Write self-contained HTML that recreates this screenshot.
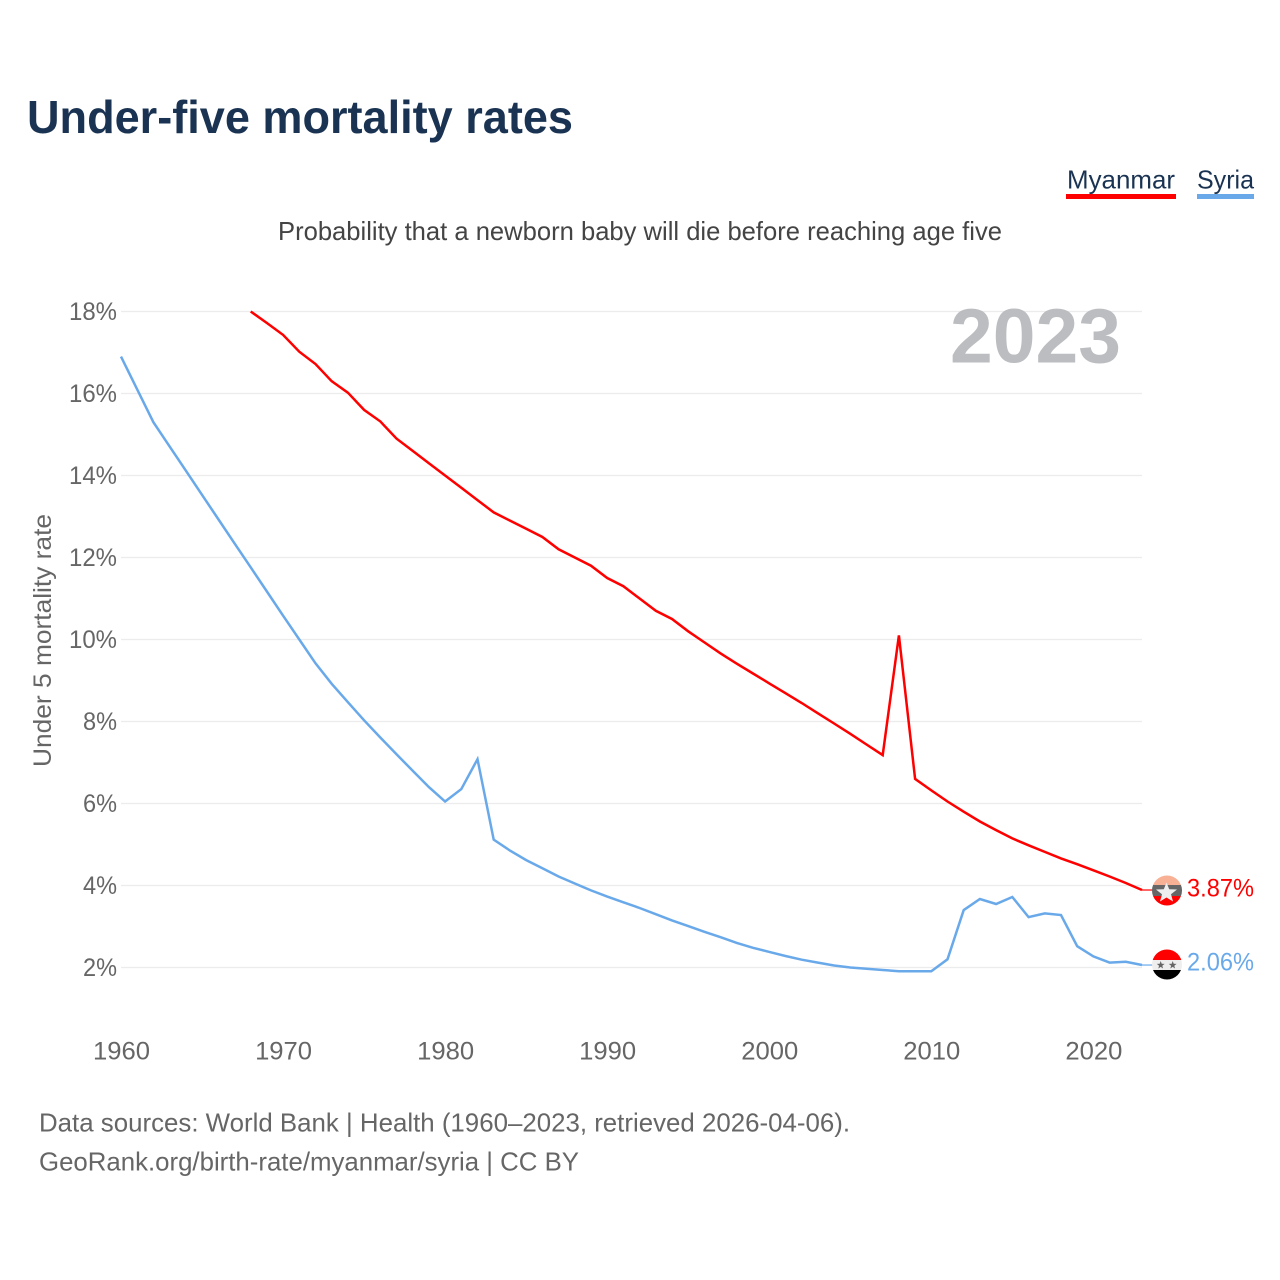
<!DOCTYPE html>
<html lang="en">
<head>
<meta charset="utf-8">
<title>Under-five mortality rates</title>
<style>
html,body{margin:0;padding:0;background:#fff;width:1280px;height:1280px;overflow:hidden}
svg{display:block;font-family:"Liberation Sans",sans-serif}
</style>
</head>
<body>
<svg id="chart" width="1280" height="1280" viewBox="0 0 1280 1280" xmlns="http://www.w3.org/2000/svg">
  <text x="27" y="133" font-size="46" font-weight="700" fill="#1a3352" textLength="546" lengthAdjust="spacingAndGlyphs">Under-five mortality rates</text>
  <text x="278" y="240" font-size="26" fill="#444" textLength="724" lengthAdjust="spacingAndGlyphs">Probability that a newborn baby will die before reaching age five</text>

  <g>
    <text x="1067" y="188.5" font-size="26" fill="#1a3352" textLength="108" lengthAdjust="spacingAndGlyphs">Myanmar</text>
    <rect x="1066" y="194" width="110" height="5" fill="#ff0000"/>
    <text x="1197" y="188.5" font-size="26" fill="#1a3352" textLength="57" lengthAdjust="spacingAndGlyphs">Syria</text>
    <rect x="1197" y="194" width="57" height="5" fill="#69a9ea"/>
  </g>

  <g id="grid"></g>
  <g id="yticks"></g>
  <g id="xticks"></g>
  <text transform="translate(51,640.5) rotate(-90)" text-anchor="middle" font-size="25" fill="#666" textLength="253" lengthAdjust="spacingAndGlyphs">Under 5 mortality rate</text>
  <text x="950" y="362.5" font-size="77" font-weight="700" fill="#bbbdc0" textLength="171" lengthAdjust="spacingAndGlyphs">2023</text>

  <g id="series"></g>

  <g id="end-labels"></g>

  <defs>
    <clipPath id="clip-mm"><circle cx="1167" cy="890.5" r="15"/></clipPath>
    <clipPath id="clip-sy"><circle cx="1167" cy="964.5" r="15"/></clipPath>
  </defs>
  <g clip-path="url(#clip-mm)">
    <rect x="1152" y="875" width="30" height="10" fill="#f8b195"/>
    <rect x="1152" y="885" width="30" height="11" fill="#666666"/>
    <rect x="1152" y="896" width="30" height="11" fill="#ff0000"/>
    <polygon fill="#eeeeee" points="1166.5,882.5 1169.2,889.2 1177,889.5 1171,894.2 1173,901.5 1166.5,897.5 1160,901.5 1162,894.2 1156,889.5 1163.8,889.2"/>
  </g>
  <g clip-path="url(#clip-sy)">
    <rect x="1152" y="949" width="30" height="11" fill="#ff0000"/>
    <rect x="1152" y="960" width="30" height="10" fill="#eeeeee"/>
    <rect x="1152" y="970" width="30" height="11" fill="#000000"/>
    <polygon fill="#666" points="1160.7,961 1161.7,963.8 1164.6,963.9 1162.3,965.7 1163.1,968.5 1160.7,966.9 1158.3,968.5 1159.1,965.7 1156.8,963.9 1159.7,963.8"/>
    <polygon fill="#666" points="1172.7,961 1173.7,963.8 1176.6,963.9 1174.3,965.7 1175.1,968.5 1172.7,966.9 1170.3,968.5 1171.1,965.7 1168.8,963.9 1171.7,963.8"/>
  </g>

  <text x="39" y="1131.5" font-size="26" fill="#666" textLength="811" lengthAdjust="spacingAndGlyphs">Data sources: World Bank | Health (1960–2023, retrieved 2026-04-06).</text>
  <text x="39" y="1170.5" font-size="26" fill="#666" textLength="540" lengthAdjust="spacingAndGlyphs">GeoRank.org/birth-rate/myanmar/syria | CC BY</text>
</svg>
<script>
const firstYear = 1960;
const lastYear = 2023;
const xTickYears = [1960, 1970, 1980, 1990, 2000, 2010, 2020];
const yTickValues = [2, 4, 6, 8, 10, 12, 14, 16, 18];
const myanmarStartYear = 1968;
const myanmarValues = [18.0, 17.72, 17.43, 17.02, 16.72, 16.3, 16.02, 15.6, 15.32, 14.9, 14.6, 14.3, 14.0, 13.7, 13.4, 13.1, 12.9, 12.7, 12.5, 12.2, 12.0, 11.8, 11.5, 11.3, 11.0, 10.7, 10.5, 10.2, 9.93, 9.66, 9.41, 9.17, 8.93, 8.69, 8.45, 8.2, 7.95, 7.7, 7.44, 7.18, 10.1, 6.6, 6.32, 6.05, 5.8, 5.56, 5.35, 5.15, 4.98, 4.82, 4.66, 4.52, 4.37, 4.22, 4.06, 3.89];
const syriaStartYear = 1960;
const syriaValues = [16.9, 16.1, 15.3, 14.71, 14.12, 13.53, 12.94, 12.35, 11.76, 11.17, 10.58, 10.0, 9.42, 8.92, 8.47, 8.03, 7.61, 7.2, 6.8, 6.4, 6.05, 6.35, 7.08, 5.12, 4.85, 4.62, 4.42, 4.22, 4.05, 3.88, 3.73, 3.59, 3.45, 3.3, 3.15, 3.01, 2.87, 2.74, 2.6, 2.48, 2.38, 2.28, 2.19, 2.12, 2.05, 2.0, 1.97, 1.94, 1.91, 1.91, 1.91, 2.2, 3.4, 3.67, 3.55, 3.72, 3.23, 3.32, 3.28, 2.52, 2.27, 2.12, 2.14, 2.06];
const myanmarLatestLabel = "3.87%";
const syriaLatestLabel = "2.06%";

const SVGNS = "http://www.w3.org/2000/svg";
function xScale(year) { return 121 + (year - firstYear) * (1142 - 121) / (lastYear - firstYear); }
function yScale(value) { return 967.5 - (value - 2) * 41; }
function make(tag, parent) {
  const el = document.createElementNS(SVGNS, tag);
  parent.appendChild(el);
  return el;
}
function linePoints(startYear, values) {
  return values.map(function (v, i) {
    return xScale(startYear + i).toFixed(1) + "," + yScale(v).toFixed(1);
  }).join(" ");
}

const grid = document.getElementById("grid");
const yticks = document.getElementById("yticks");
const xticks = document.getElementById("xticks");
const series = document.getElementById("series");
const endLabels = document.getElementById("end-labels");

yTickValues.forEach(function (v) {
  const gl = make("line", grid);
  
  
  gl.setAttribute("x1", xScale(firstYear));
  gl.setAttribute("x2", xScale(lastYear));
  gl.setAttribute("y1", yScale(v));
  gl.setAttribute("y2", yScale(v));
  gl.setAttribute("stroke", "#ececec");
  gl.setAttribute("stroke-width", "1.3");

  const t = make("text", yticks);
  
  
  t.setAttribute("x", 117);
  t.setAttribute("y", yScale(v) + 8.5);
  t.setAttribute("text-anchor", "end");
  t.setAttribute("font-size", "25");
  t.setAttribute("fill", "#666");
  t.setAttribute("textLength", v >= 10 ? 48 : 34);
  t.setAttribute("lengthAdjust", "spacingAndGlyphs");
  t.textContent = v + "%";
});

xTickYears.forEach(function (y) {
  const t = make("text", xticks);
  
  
  t.setAttribute("x", xScale(y) + 0.5);
  t.setAttribute("y", 1059.5);
  t.setAttribute("text-anchor", "middle");
  t.setAttribute("font-size", "25");
  t.setAttribute("fill", "#666");
  t.setAttribute("textLength", 57);
  t.setAttribute("lengthAdjust", "spacingAndGlyphs");
  t.textContent = y;
});

const connectorMm = make("line", series);


connectorMm.setAttribute("x1", xScale(lastYear));
connectorMm.setAttribute("x2", 1153);
connectorMm.setAttribute("y1", yScale(myanmarValues[myanmarValues.length - 1]));
connectorMm.setAttribute("y2", yScale(myanmarValues[myanmarValues.length - 1]));
connectorMm.setAttribute("stroke", "#ff0000");
connectorMm.setAttribute("stroke-width", "1.2");

const connectorSy = make("line", series);


connectorSy.setAttribute("x1", xScale(lastYear));
connectorSy.setAttribute("x2", 1153);
connectorSy.setAttribute("y1", yScale(syriaValues[syriaValues.length - 1]));
connectorSy.setAttribute("y2", yScale(syriaValues[syriaValues.length - 1]));
connectorSy.setAttribute("stroke", "#69a9ea");
connectorSy.setAttribute("stroke-width", "1.2");

const lineMm = make("polyline", series);


lineMm.setAttribute("points", linePoints(myanmarStartYear, myanmarValues));
lineMm.setAttribute("fill", "none");
lineMm.setAttribute("stroke", "#ff0000");
lineMm.setAttribute("stroke-width", "2.5");
lineMm.setAttribute("stroke-linejoin", "miter");

const lineSy = make("polyline", series);


lineSy.setAttribute("points", linePoints(syriaStartYear, syriaValues));
lineSy.setAttribute("fill", "none");
lineSy.setAttribute("stroke", "#69a9ea");
lineSy.setAttribute("stroke-width", "2.5");
lineSy.setAttribute("stroke-linejoin", "miter");

const labelMm = make("text", endLabels);


labelMm.setAttribute("x", 1187);
labelMm.setAttribute("y", 896.5);
labelMm.setAttribute("font-size", "25");
labelMm.setAttribute("fill", "#ff0000");
labelMm.setAttribute("textLength", 67);
labelMm.setAttribute("lengthAdjust", "spacingAndGlyphs");
labelMm.textContent = myanmarLatestLabel;

const labelSy = make("text", endLabels);


labelSy.setAttribute("x", 1187);
labelSy.setAttribute("y", 970.5);
labelSy.setAttribute("font-size", "25");
labelSy.setAttribute("fill", "#69a9ea");
labelSy.setAttribute("textLength", 67);
labelSy.setAttribute("lengthAdjust", "spacingAndGlyphs");
labelSy.textContent = syriaLatestLabel;
</script>
</body>
</html>
